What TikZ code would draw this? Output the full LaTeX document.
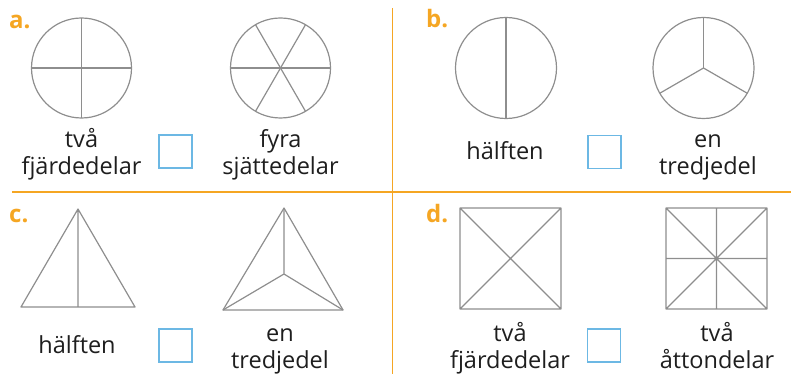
\documentclass[tikz,border=0pt]{standalone}
\usepackage{fontspec}
\setmainfont{Open Sans}
\usetikzlibrary{positioning}
\definecolor{rule}{HTML}{F5A623}
\definecolor{figline}{HTML}{8E8E8E}
\definecolor{boxblue}{HTML}{6CB8E4}
\definecolor{ink}{HTML}{1E1E1E}
\tikzset{
  fig/.style={draw=figline,line width=1.2pt,line join=round},
  word/.style={align=center,font=\fontsize{23.5}{27}\selectfont,text=ink,inner sep=0pt},
  ansbox/.style={draw=boxblue,line width=1.2pt,minimum size=33pt,inner sep=0pt},
  part/.style={text=rule,font=\fontsize{24}{24}\selectfont\bfseries,inner sep=0pt},
  divider/.style={draw=rule,line width=1.3pt},
}

\begin{document}
\begin{tikzpicture}[x=1pt,y=-1pt]
  \useasboundingbox (0,0) rectangle (791,374);
  % quarter lines
  \draw[divider] (392.5,8) -- (392.5,374);
  \draw[divider] (12,192) -- (791,192);

  % a: circles
  \node[part,anchor=base west] (pa) at (9,29) {a.};
  \coordinate (ca1) at (81.5,68);
  \coordinate (ca2) at (280.5,68);
  \draw[fig] (ca1) circle[radius=50];
  \draw[fig] (ca1) ++(-50,0) -- ++(100,0) (ca1) ++(0,-50) -- ++(0,100);
  \draw[fig] (ca2) circle[radius=50];
  \foreach \a in {0,60,120}
    \draw[fig] (ca2) ++(\a:50) -- ++(\a+180:100);
  \node[word,anchor=base] (ta1) at (81.5,174) {två\\fjärdedelar};
  \node[ansbox] (qa) at (175.5,151.5) {};
  \node[word,anchor=base] (ta2) at (280.5,174) {fyra\\sjättedelar};

  % b: circles
  \node[part,anchor=base west] (pb) at (426,28) {b.};
  \coordinate (cb1) at (506,68);
  \coordinate (cb2) at (703.5,68);
  \draw[fig] (cb1) circle[radius=50.5];
  \draw[fig] (cb1) ++(0,-50.5) -- ++(0,101);
  \draw[fig] (cb2) circle[radius=50.5];
  \foreach \a in {270,30,150}
    \draw[fig] (cb2) -- ++(\a:50.5);
  \node[word,anchor=base] (tb1) at (505,160) {hälften};
  \node[ansbox] (qb) at (604.5,152) {};
  \node[word,anchor=base] (tb2) at (708,175) {en\\tredjedel};

  % c: triangles
  \node[part,anchor=base west] (pc) at (9,222) {c.};
  \draw[fig] (78,209) -- (135,307) -- (21,307) -- cycle (78,209) -- (78,307);
  \coordinate (cc2) at (284,274);
  \draw[fig] (284,208) -- (343,310) -- (223,310) -- cycle;
  \draw[fig] (cc2) -- (284,208) (cc2) -- (343,310) (cc2) -- (223,310);
  \node[word,anchor=base] (tc1) at (77,353) {hälften};
  \node[ansbox] (qc) at (175.5,345.5) {};
  \node[word,anchor=base] (tc2) at (280,368) {en\\tredjedel};

  % d: squares
  \node[part,anchor=base west] (pd) at (426,222) {d.};
  \draw[fig] (460,208) rectangle (561,309) (460,208) -- (561,309) (561,208) -- (460,309);
  \draw[fig] (666,208) rectangle (767,309) (666,208) -- (767,309) (767,208) -- (666,309)
    (716.5,208) -- (716.5,309) (666,258.5) -- (767,258.5);
  \node[word,anchor=base] (td1) at (510,368) {två\\fjärdedelar};
  \node[ansbox] (qd) at (604,345.5) {};
  \node[word,anchor=base] (td2) at (717,368) {två\\åttondelar};
\end{tikzpicture}
\end{document}
